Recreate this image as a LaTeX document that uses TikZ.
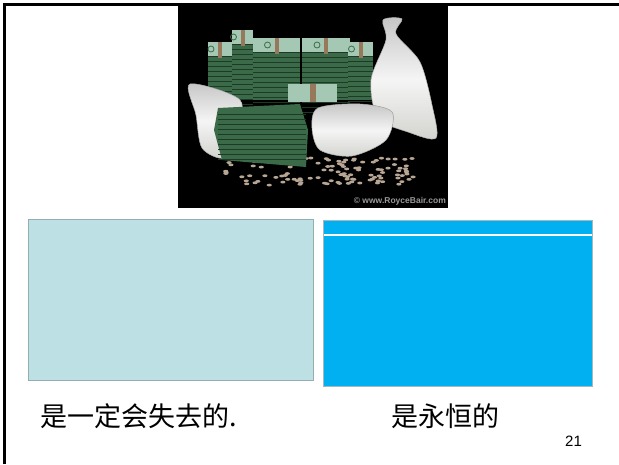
\documentclass[tikz,border=0pt]{standalone}
\usepackage{fontspec}
\newfontfamily\cjk{Noto Sans CJK SC}
\newfontfamily\arialfont{Liberation Sans}
\usetikzlibrary{calc}

\definecolor{lboxfill}{RGB}{188,224,227}
\definecolor{lboxline}{RGB}{148,175,179}
\definecolor{rboxfill}{RGB}{0,176,240}
\definecolor{rboxline}{RGB}{166,184,188}
\definecolor{billgreen}{RGB}{58,106,72}
\definecolor{billdark}{RGB}{28,58,38}
\definecolor{billtop}{RGB}{165,200,180}
\definecolor{bandtan}{RGB}{150,120,90}
\definecolor{bagwhite}{RGB}{210,210,206}

\tikzset{
 lbox/.style={draw=lboxline, fill=lboxfill, line width=1.2pt, inner sep=0, anchor=north west},
 rbox/.style={draw=rboxline, fill=rboxfill, line width=1.2pt, inner sep=0, anchor=north west},
 txt/.style={font=\cjk\fontsize{27}{27}\selectfont, inner sep=0, anchor=base west},
 bag/.style={top color=gray!45, bottom color=bagwhite, middle color=white!92!gray, draw=gray!60, line width=0.5pt},
}

\begin{document}
\begin{tikzpicture}[x=1pt, y=-1pt]
 \useasboundingbox (0,0) rectangle (619,464);
 \fill[white] (0,0) rectangle (619,464);

 % 枠
 \draw[line width=2.5pt, black] (4.5,464) -- (4.5,4.5) -- (619,4.5);

 % 写真
 \coordinate (P1) at (178,3);
 \coordinate (P2) at (448,208);
 \fill[black] (P1) rectangle (P2);
 \pgfmathsetseed{11}
 \foreach \i in {1,...,110}{
  \pgfmathsetmacro{\cx}{320+95*rand}
  \pgfmathsetmacro{\cy}{172+14*rand}
  \fill[gray!60!brown!70] (\cx,\cy) ellipse (2.6pt and 1.4pt);
 }
 \foreach \xa/\xb/\ya in {208/232/42, 232/253/30, 253/300/38, 302/350/38, 348/373/42}{
  \fill[billgreen] (\xa,\ya) rectangle (\xb,100);
  \foreach \yy in {0,5,...,60}{
   \draw[billdark, line width=0.4pt] ($(\xa,\ya)+(0,14+\yy)$) -- ++(\xb-\xa,0);
  }
  \fill[billtop] (\xa,\ya) rectangle (\xb,\ya+14);
  \draw[billgreen, line width=0.8pt] ($(\xa,\ya)!.5!(\xb,\ya)+(-9,7)$) circle (3pt);
  \fill[bandtan] ($(\xa,\ya)!.5!(\xb,\ya)+(-2,0)$) rectangle ++(4,16);
 }
 \fill[bag] plot[smooth cycle] coordinates {(383,20) (402,19) (396,34) (420,62) (432,105) (436,138) (408,132) (378,118) (371,80) (386,40)};
 \fill[bag] plot[smooth cycle] coordinates {(190,84) (240,100) (236,135) (224,158) (202,148) (196,115)};
 \fill[bag] plot[smooth cycle] coordinates {(318,108) (360,104) (392,112) (386,140) (352,156) (320,150) (312,128)};
 \fill[billgreen] (218,108) -- (300,104) -- (308,130) -- (306,167) -- (222,160) -- (214,130) -- cycle;
 \foreach \yy in {114,119,...,160}{
  \draw[billdark, line width=0.4pt] (218,\yy) -- (306,\yy);
 }
 \fill[billtop] (288,84) rectangle (337,102);
 \fill[bandtan] (310,84) rectangle (316,102);
 \node[font=\arialfont\bfseries\fontsize{8.5}{8.5}\selectfont, text=gray!80, inner sep=0, anchor=east] (W) at (446,201) {\textcopyright{} www.RoyceBair.com};

 % 二つの箱
 \node[lbox, minimum width=285pt, minimum height=161pt] (L) at (28,219) {};
 \node[rbox, minimum width=269pt, minimum height=166pt] (R) at (323,220) {};
 \draw[white, line width=1.2pt] ($(R.north west)+(1,15)$) -- ($(R.north east)+(-1,15)$);

 % 文字
 \node[txt] (T1) at (40,426) {是一定会失去的.};
 \node[txt] (T2) at (391,426) {是永恒的};
 \node[font=\arialfont\fontsize{15}{15}\selectfont, inner sep=0, anchor=base west] (N) at (565,446) {21};
\end{tikzpicture}
\end{document}
